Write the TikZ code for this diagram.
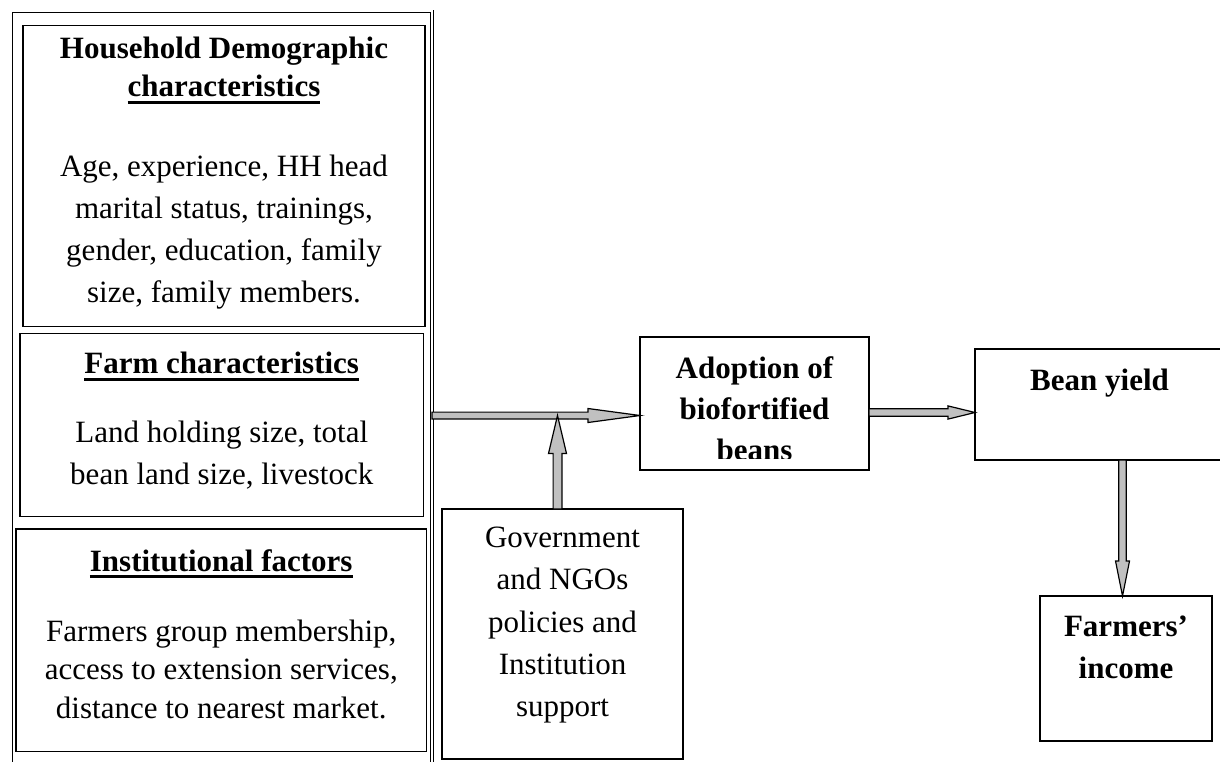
\documentclass[tikz,border=0pt]{standalone}
\usepackage{fontspec}
\setmainfont{Liberation Serif}
\usetikzlibrary{positioning,calc}

\definecolor{arrowgray}{RGB}{192,192,192}

% thick underline for the headings
\newcommand{\headline}[1]{\setbox0\hbox{#1}\rlap{\rule[-6.8pt]{\wd0}{2.6pt}}\box0}

% block arrow: from, to, head length, half shaft, half head
\newcommand{\fatarrow}[5]{%
  \coordinate (fa-h) at ($(#2)!#3!(#1)$);
  \filldraw[fat] ($(#1)!#4!90:(#2)$) -- ($(fa-h)!#4!90:(#2)$) -- ($(fa-h)!#5!90:(#2)$)
    -- (#2) -- ($(fa-h)!#5!-90:(#2)$) -- ($(fa-h)!#4!-90:(#2)$) -- ($(#1)!#4!-90:(#2)$) -- cycle;}

\begin{document}
\begin{tikzpicture}[x=1pt,y=-1pt,
    box/.style={draw, line width=1.6pt, inner sep=0pt, outer sep=0pt, anchor=north west},
    frame/.style={draw, double, line width=0.9pt, double distance=1.8pt, inner sep=0pt, outer sep=0pt, anchor=north west},
    txt/.style={inner sep=0pt, align=center, anchor=north},
    fat/.style={fill=arrowgray, draw=black, line width=1.2pt, line join=miter}]
    \useasboundingbox (0,0) rectangle (1220,761);
    %%%%% THE FACTORS
    \node[frame, minimum width=420.7pt, minimum height=800pt] (factors) at (11.3,11.3) {};
    \node[box, minimum width=402pt, minimum height=301pt] (hh) at (23,25.5) {};
    \node[box, minimum width=403.5pt, minimum height=183pt] (farm) at (20,333.5) {};
    \node[box, minimum width=410.5pt, minimum height=222.5pt] (inst) at (16,529) {};
    \node[txt, font=\fontsize{31}{42}\selectfont, below=11.5pt of hh.north] (hh-text)
      {\textbf{Household Demographic}\\[-4pt]\textbf{\headline{characteristics}}\\[38pt]
       Age, experience, HH head\\marital status, trainings,\\gender, education, family\\size, family members.};
    \node[txt, font=\fontsize{31}{42}\selectfont, below=18.5pt of farm.north] (farm-text)
      {\textbf{\headline{Farm characteristics}}\\[27pt]Land holding size, total\\bean land size, livestock};
    \node[txt, font=\fontsize{31}{38.5}\selectfont, below=20pt of inst.north] (inst-text)
      {\textbf{\headline{Institutional factors}}\\[31.5pt]Farmers group membership,\\access to extension services,\\distance to nearest market.};
    %%%%% THE SUPPORT
    \node[box, minimum width=241pt, minimum height=250pt] (gov) at (442,509) {};
    \node[txt, font=\fontsize{31}{42.2}\selectfont, below=18pt of gov.north] (gov-text)
      {Government\\and NGOs\\policies and\\Institution\\support};
    %%%%% THE OUTCOMES
    \node[box, minimum width=229pt, minimum height=133pt] (adopt) at (640,337) {};
    \begin{scope}
      \clip (adopt.north west) rectangle ($(adopt.south east)+(0,-12)$);
      \node[txt, font=\fontsize{31}{41.2}\selectfont\bfseries, below=19pt of adopt.north] (adopt-text)
        {Adoption of\\biofortified\\beans};
    \end{scope}
    \node[box, minimum width=295pt, minimum height=111pt] (yield) at (975,349) {};
    \node[txt, anchor=north west, font=\fontsize{31}{40}\selectfont\bfseries, below right=20pt and 55pt of yield.north west] (yield-text)
      {Bean yield};
    \node[box, minimum width=172pt, minimum height=145pt] (income) at (1040,596) {};
    \node[txt, font=\fontsize{31}{42}\selectfont\bfseries, below=20pt of income.north] (income-text)
      {Farmers'\\income};
    %%%%% THE ARROWS
    \coordinate (a-in) at ($(adopt.west)+(0,12)$);
    \coordinate (f-out) at (factors.east |- a-in);
    \coordinate (g-out) at ($(gov.north)+(-5,0)$);
    \coordinate (g-in) at (g-out |- a-in);
    \coordinate (a-out) at ($(adopt.east)+(0,9)$);
    \coordinate (y-in) at (yield.west |- a-out);
    \coordinate (i-in) at (yield.south |- income.north);
    \fatarrow{f-out}{a-in}{52pt}{3.4pt}{7pt}
    \fatarrow{g-out}{g-in}{38pt}{4.4pt}{9pt}
    \fatarrow{a-out}{y-in}{27pt}{3.7pt}{6.6pt}
    \fatarrow{yield.south}{i-in}{35pt}{3.8pt}{7pt}
\end{tikzpicture}
\end{document}
